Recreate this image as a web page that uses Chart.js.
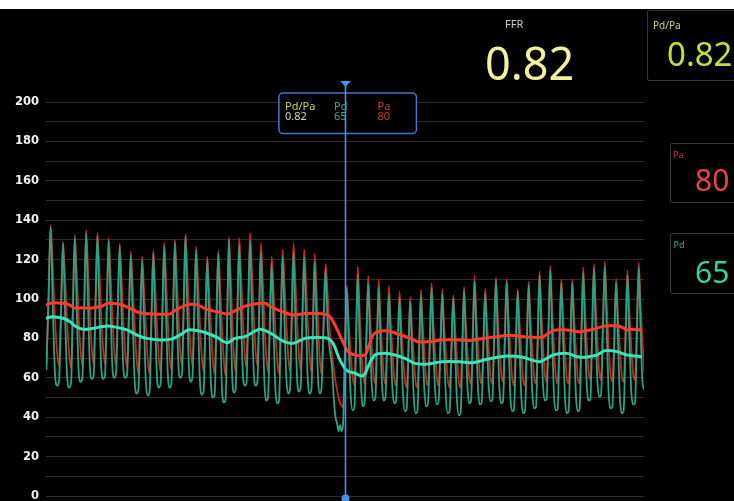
<!DOCTYPE html>
<html>
<head>
<meta charset="utf-8">
<script src="https://cdn.jsdelivr.net/npm/chart.js@4.4.1/dist/chart.umd.min.js"></script>
<style>
  html, body { margin: 0; padding: 0; background: #000; width: 734px; height: 501px; overflow: hidden; }
  #wrap { position: relative; width: 734px; height: 501px; overflow: hidden; background: #000; }
  #c { position: absolute; left: 0; top: 0; }
  #topband { position: absolute; left: 0; top: 0; width: 734px; height: 9px; background: #fff; }
  .t { position: absolute; white-space: nowrap; font-family: "Noto Sans", "Open Sans", sans-serif; line-height: 1; }
  .panel { position: absolute; border: 1px solid #363636; border-radius: 2px; background: #000; }
</style>
</head>
<body>
<div id="wrap">
  <canvas id="c" width="734" height="510"></canvas>
  <div id="topband"></div>

  <!-- FFR readout -->
  <div class="t" style="left:505px;top:18px;font-size:11px;color:#cfcfb8;">FFR</div>
  <div class="t" style="left:485px;top:40px;font-size:45px;color:#f2f29a;">0.82</div>

  <!-- Pd/Pa panel -->
  <div class="panel" style="left:647px;top:10px;width:110px;height:69px;"></div>
  <div class="t" style="left:653px;top:19.5px;font-size:10px;color:#d4d47c;">Pd/Pa</div>
  <div class="t" style="left:667px;top:37px;font-size:33px;color:#bfe03e;">0.82</div>

  <!-- Pa panel -->
  <div class="panel" style="left:670px;top:143px;width:90px;height:58px;"></div>
  <div class="t" style="left:673px;top:149.5px;font-size:9px;color:#c83232;">Pa</div>
  <div class="t" style="left:695px;top:165px;font-size:30px;color:#e8453c;">80</div>

  <!-- Pd panel -->
  <div class="panel" style="left:670px;top:233px;width:90px;height:59px;"></div>
  <div class="t" style="left:673.5px;top:239.5px;font-size:9px;color:#2fa888;">Pd</div>
  <div class="t" style="left:695px;top:256.5px;font-size:30px;color:#33d4a0;">65</div>

  <!-- cursor readout -->
  <div class="t" style="left:285px;top:99.5px;font-size:11px;color:#c9d24a;">Pd/Pa</div>
  <div class="t" style="left:285px;top:110px;font-size:11px;color:#d6d8a0;">0.82</div>
  <div class="t" style="left:334px;top:99.5px;font-size:11px;color:#3aa889;">Pd</div>
  <div class="t" style="left:334px;top:110px;font-size:11px;color:#3fae8e;">65</div>
  <div class="t" style="left:377.5px;top:99.5px;font-size:11px;color:#d23a36;">Pa</div>
  <div class="t" style="left:377.5px;top:110px;font-size:11px;color:#c9423d;">80</div>
</div>

<script>
// Beat onset times (s); the last entry closes the final beat.
const beatStart = [
  0.02, 0.65, 1.25, 1.82, 2.38, 2.95, 3.50, 4.05, 4.62, 5.18,
  5.73, 6.27, 6.80, 7.32, 7.88, 8.43, 8.98, 9.48, 10.02, 10.57,
  11.10, 11.65, 12.20, 12.73, 13.27, 13.77, 14.40, 14.85, 15.42, 15.93,
  16.47, 16.97, 17.50, 18.03, 18.57, 19.10, 19.63, 20.18, 20.73, 21.25,
  21.78, 22.32, 22.85, 23.40, 23.95, 24.50, 25.03, 25.58, 26.13, 26.68,
  27.22, 27.75, 28.32, 28.88, 29.45, 30.01
];

// Distal pressure (Pd, mmHg) per beat: onset, upstroke, peak, two falling samples, trough.
const pdBeats = [
  [64,100,136.7,98,64,56], [58,92,128.3,94,62,55], [57,94,131,96,64,58], [60,96,133.6,98,66,59.5],
  [61,96,132,97,66,59.5], [61,95,129.6,96,66,60], [62,94,127,94,65,60], [61,91,122.3,90,59,52],
  [54,87,119.8,88,58,51], [53,88,123.2,90,61,55], [57,92,127,93,62,55], [57,93,128.6,95,66,60],
  [62,96,131.6,97,65,58], [60,92,124.9,91,59,51.5], [53,86,119.8,88,57,50], [51,87,123.2,89,55,47.5],
  [49,90,130,94,60,52.5], [54,91,127.4,93,63,56], [57,93,129.6,95,63,56], [58,91,124,90,57,48.5],
  [50,84,118.1,86,55,47], [48,85,121.8,89,60,52], [54,89,124,91,60,53], [55,88,121.2,89,59,52],
  [54,86,118.9,88,59,52], [54,84,114.7,86,74,66], [48,40,37,33,36,33],
  [36,70,105.4,78,52,43.5], [45,78,112.2,82,54,45.5], [47,78,108,80,56,48.5], [50,78,105.9,79,56,48.5],
  [50,76,102.9,77,54,47], [48,74,100.8,75,51,43], [44,71,98.6,74,50,42], [43,72,102,76,53,45.5],
  [47,76,105.9,78,54,46.5], [48,75,102.7,76,50,42], [43,72,100.5,75,49,41], [42,73,104.5,78,55,47],
  [48,78,108.8,80,54,46.5], [47,75,103,77,55,48], [49,79,109.6,80,54,47], [48,78,108.8,80,51,43],
  [44,74,103.7,77,50,42], [43,75,107.1,79,52,44.5], [45,78,112.2,82,56,48.5], [49,82,114.7,83,52,43.5],
  [44,76,108,80,50,42], [43,75,108,80,51,43], [44,79,113.9,83,56,48.5], [49,82,115.6,84,58,50.5],
  [51,84,116.4,85,53,44.5], [45,77,108.8,80,50,42], [43,77,112.2,82,54,46.5], [47,81,115.6,84,58,54]
];

// Aortic pressure (Pa, mmHg) per beat: onset, upstroke, peak, three falling samples.
const paBeats = [
  [66,100,137.5,118,92,74], [66,96,129,112,90,73], [65,97,132.5,114,91,74], [66,99,135,116,93,75],
  [67,99,133.5,115,92,75], [67,98,131,113,92,74], [66,96,128,111,90,73], [65,94,124,107,87,70],
  [62,91,121.5,105,86,69], [62,92,124.5,107,87,70], [63,95,128.5,110,89,71], [64,96,130,112,91,73],
  [66,99,133,115,92,74], [66,96,126.5,109,88,71], [63,91,121.5,105,86,69], [62,92,124.5,107,86,69],
  [61,95,131.5,113,89,71], [63,96,131,113,91,73], [65,98,133.5,115,92,74], [66,96,128.5,110,88,71],
  [63,91,121.5,105,85,69], [62,92,125,108,88,71], [63,94,128.3,110,89,72], [64,93,125,108,88,71],
  [63,92,123,106,87,70], [62,88,117.8,102,84,72], [64,58,54,50,47,46],
  [45,74,107,88,72,61], [56,84,116.4,95,76,62], [57,83,111.7,92,75,61], [57,82,110,91,75,61],
  [57,80,106.6,88,73,60], [56,78,103.7,86,71,59], [55,76,100.9,84,70,58], [55,78,104.6,87,72,59],
  [56,80,108,89,73,60], [56,78,104.9,87,72,59], [55,77,102,85,71,58], [55,79,106.2,88,73,60],
  [57,83,111.7,92,75,61], [57,80,105.2,88,74,60], [57,83,111,92,76,62], [58,82,110,91,74,60],
  [56,79,105,88,73,59], [56,81,108.8,90,74,60], [57,84,113.9,94,76,62], [58,86,116.8,96,76,61],
  [57,82,110,91,74,60], [57,82,110,91,74,60], [57,85,116,95,77,63], [59,87,117.8,97,78,63],
  [59,87,118.9,97,77,62], [58,82,110.2,91,75,61], [58,84,114.4,94,76,62], [59,87,118.4,97,78,63]
];

// Running means (mmHg) and their times (s).
const paMeanTime = [0,0.3,0.85,1.2,1.45,1.85,2.2,2.85,3.1,3.7,4.2,4.7,5.35,6.2,6.45,7.05,7.55,8.05,8.55,9.1,
  9.45,9.95,10.45,10.95,11.3,11.8,12.35,12.95,13.45,13.95,14.2,14.45,14.8,15.1,15.45,15.95,16.1,16.35,16.6,17.1,
  17.6,18.1,18.6,19.1,19.8,20.7,21.2,21.85,22.55,23.2,23.85,24.55,24.85,25.35,26.05,26.7,27.35,27.95,28.55,28.85,
  29.05,29.3,29.8];
const paMean = [96.8,98.1,97.8,96.9,95.3,95.6,95.3,96.6,97.8,97.2,95.3,93,92.4,92.4,94.2,97,97,94.7,93.5,92.4,
  94,96.4,97.5,97.8,95.8,93.6,91.9,92.6,92.6,92.3,91,86.8,79.2,73.3,71.6,71.6,75,81.7,83.4,83.8,
  82.2,80.5,78.3,78.3,79.2,79.2,78.9,80,80.9,81.6,80.9,80.5,80.7,83.9,84.3,83.4,84.6,86.3,86.3,85.5,
  84.3,84.6,84.3];
const pdMeanTime = [0,0.3,0.85,1.2,1.45,1.85,2.35,3.05,3.55,4.05,4.55,5.05,5.7,6.2,6.7,7.1,7.55,8.05,8.55,9.05,
  9.45,9.95,10.7,11.3,11.8,12.35,12.95,13.55,14.1,14.35,14.7,15.05,15.45,15.8,15.95,16.1,16.45,16.95,17.45,17.95,
  18.45,19.1,19.8,20.7,21.35,22.05,23.05,23.85,24.7,25.35,26.05,26.7,27.55,27.95,28.55,29.05,29.8];
const pdMean = [90.2,91,90.2,88.5,86.3,84.6,85.1,86.3,85.6,84.3,81.7,80,79.2,79.5,81.7,84.3,84,82.6,80.5,77.8,
  80,80.9,84.6,82.2,78.9,77.5,80,80.5,80,77.5,69,63.6,62.3,60.9,62,65.6,71.6,72.4,71.6,69.9,
  67.3,67,68.2,68.2,67.7,69.4,71.1,70.4,68.2,71.6,72.4,70.4,71.6,73.8,73.3,71.6,70.7];

// Cursor position (s) and y-axis range.
const cursorTime = 14.97;
const yTicks = { min: 0, max: 200, step: 10, labelEvery: 20 };

// Spread each beat's samples evenly across its interval.
function beatsToPoints(rows) {
  const pts = [];
  rows.forEach((row, b) => {
    const t0 = beatStart[b];
    const dt = (beatStart[b + 1] - t0) / row.length;
    row.forEach((v, k) => pts.push({ x: t0 + k * dt, y: v }));
  });
  return pts;
}
const pairs = (ts, vs) => ts.map((t, i) => ({ x: t, y: vs[i] }));

const cursorPlugin = {
  id: 'cursor',
  beforeDatasetsDraw(chart) {
    const c = chart.ctx;
    const cx = chart.scales.x.getPixelForValue(cursorTime);
    const x = cx - 66.5, y = 93, w = 137.5, h = 40.5, r = 4;
    c.save();
    c.beginPath();
    c.moveTo(x + r, y);
    c.arcTo(x + w, y, x + w, y + h, r);
    c.arcTo(x + w, y + h, x, y + h, r);
    c.arcTo(x, y + h, x, y, r);
    c.arcTo(x, y, x + w, y, r);
    c.closePath();
    c.fillStyle = '#000';
    c.fill();
    c.lineWidth = 1.5;
    c.strokeStyle = '#3f78c8';
    c.stroke();
    c.restore();
  },
  afterDatasetsDraw(chart) {
    const c = chart.ctx;
    const cx = Math.round(chart.scales.x.getPixelForValue(cursorTime)) + 0.5;
    c.save();
    c.strokeStyle = '#4f8ee0';
    c.lineWidth = 1.6;
    c.beginPath();
    c.moveTo(cx, 84);
    c.lineTo(cx, 498);
    c.stroke();
    c.fillStyle = '#4a8fe6';
    c.beginPath();
    c.moveTo(cx - 5.5, 81);
    c.lineTo(cx + 5.5, 81);
    c.lineTo(cx, 87);
    c.closePath();
    c.fill();
    c.beginPath();
    c.arc(cx, 498.5, 4, 0, Math.PI * 2);
    c.fill();
    c.restore();
  }
};

new Chart(document.getElementById('c'), {
  type: 'line',
  data: {
    datasets: [
      { label: 'Pa mean', data: pairs(paMeanTime, paMean), borderColor: '#ff3b30', borderWidth: 3,
        pointRadius: 0, tension: 0.3, order: 0 },
      { label: 'Pd mean', data: pairs(pdMeanTime, pdMean), borderColor: '#38e4b8', borderWidth: 3,
        pointRadius: 0, tension: 0.3, order: 1 },
      { label: 'Pd', data: beatsToPoints(pdBeats), borderColor: '#2aa383', borderWidth: 1.8,
        pointRadius: 0, cubicInterpolationMode: 'monotone', order: 2 },
      { label: 'Pa', data: beatsToPoints(paBeats), borderColor: '#c2281f', borderWidth: 1.8,
        pointRadius: 0, cubicInterpolationMode: 'monotone', order: 3 }
    ]
  },
  options: {
    responsive: false,
    animation: false,
    events: [],
    layout: { padding: { left: 0, right: 90, top: 102, bottom: 14 } },
    plugins: { legend: { display: false }, tooltip: { enabled: false } },
    scales: {
      x: { type: 'linear', display: false, min: 0, max: 29.9 },
      y: {
        min: yTicks.min, max: yTicks.max,
        border: { display: false },
        grid: { color: '#2e2e2e', lineWidth: 1, drawTicks: false },
        ticks: {
          stepSize: yTicks.step,
          padding: 7,
          color: '#f2f2f2',
          font: { family: 'DejaVu Sans', weight: 'bold', size: 11.5, lineHeight: 1.2 },
          callback: v => (v % yTicks.labelEvery === 0 ? String(v) : '')
        },
        afterFit(scale) { scale.width = 46; }
      }
    }
  },
  plugins: [cursorPlugin]
});
</script>
</body>
</html>
